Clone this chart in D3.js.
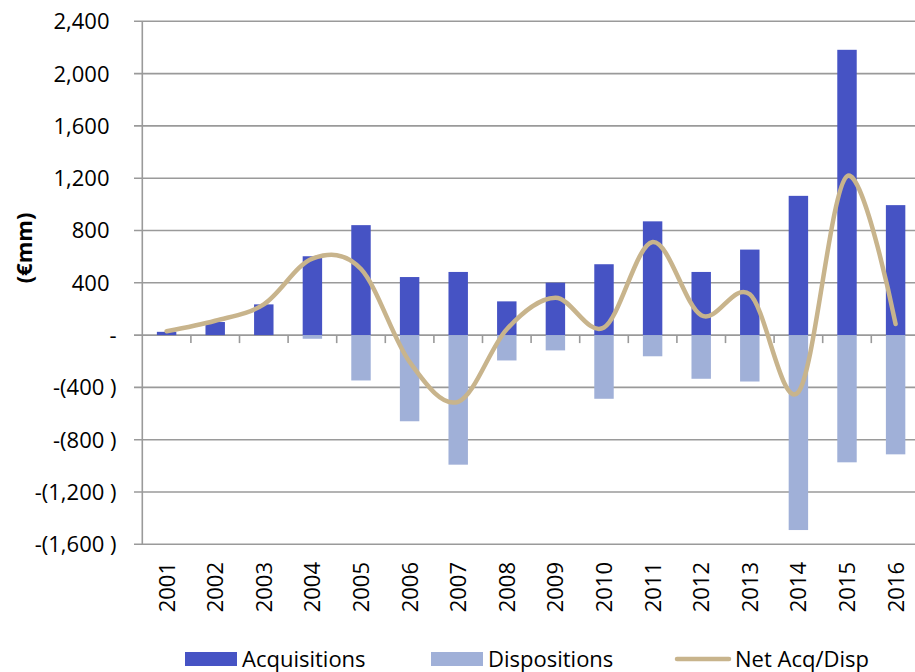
<!DOCTYPE html>
<html>
<head>
<meta charset="utf-8">
<script src="https://cdn.jsdelivr.net/npm/d3@7"></script>
<style>
  body { margin: 0; background: #fff; }
  svg text { font-family: "Open Sans", "Noto Sans", sans-serif; fill: #000; }
</style>
</head>
<body>
<svg id="chart" width="915" height="672"></svg>
<script>
// data
let years = ['2001','2002','2003','2004','2005','2006','2007','2008',
             '2009','2010','2011','2012','2013','2014','2015','2016'];
let acquisitions = [25, 100, 235, 603, 841, 444, 483, 258, 401, 542, 870, 483, 654, 1065, 2182, 994];
let dispositions = [0, 0, 0, -28, -347, -659, -991, -194, -117, -487, -162, -334, -355, -1491, -973, -912];
let netAcqDisp = [30, 110, 235, 585, 505, -205, -510, 45, 285, 58, 712, 152, 312, -435, 1215, 85];
let yTicks = [2400, 2000, 1600, 1200, 800, 400, 0, -400, -800, -1200, -1600];
let legendNames = ['Acquisitions', 'Dispositions', 'Net Acq/Disp'];

let acqColor = '#4653c4';
let dispColor = '#a0b0d8';
let netColor = '#c8b48c';
let gridColor = '#9a9a9a';

let svg = d3.select('#chart');

let xScale = d3.scaleBand()
  .domain(years)
  .range([142.3, 919.9])
  .paddingInner(0)
  .paddingOuter(0);
let yScale = d3.scaleLinear()
  .domain([-1600, 2400])
  .range([544.3, 21.3]);

function fmt(v) {
  if (v == 0) return '-';
  let s = d3.format(',')(Math.abs(v));
  return v < 0 ? '-(' + s + ' )' : s;
}

// horizontal gridlines + y labels
let yAxis = svg.append('g');
yAxis.selectAll('line')
  .data(yTicks)
  .join('line')
  .attr('x1', 134)
  .attr('x2', 915)
  .attr('y1', function(d){return yScale(d)})
  .attr('y2', function(d){return yScale(d)})
  .attr('stroke', gridColor)
  .attr('stroke-width', 1.6);
yAxis.selectAll('text')
  .data(yTicks)
  .join('text')
  .attr('x', function(d){return d > 0 ? 109.5 : 116.5})
  .attr('y', function(d){return yScale(d)})
  .attr('dy', '0.36em')
  .attr('text-anchor', 'end')
  .attr('font-size', 22)
  .text(fmt);

// y axis title
svg.append('text')
  .attr('transform', 'translate(32,248) rotate(-90)')
  .attr('text-anchor', 'middle')
  .attr('font-size', 22)
  .attr('font-weight', 'bold')
  .text('(€mm)');

// bars
let bw = xScale.bandwidth() * 0.4;
svg.append('g')
  .selectAll('rect')
  .data(acquisitions)
  .join('rect')
  .attr('x', function(d,i){return xScale(years[i]) + (xScale.bandwidth() - bw) / 2})
  .attr('width', bw)
  .attr('y', function(d){return yScale(Math.max(d, 0))})
  .attr('height', function(d){return Math.abs(yScale(d) - yScale(0))})
  .attr('fill', acqColor);
svg.append('g')
  .selectAll('rect')
  .data(dispositions)
  .join('rect')
  .attr('x', function(d,i){return xScale(years[i]) + (xScale.bandwidth() - bw) / 2})
  .attr('width', bw)
  .attr('y', function(d){return yScale(Math.max(d, 0))})
  .attr('height', function(d){return Math.abs(yScale(d) - yScale(0))})
  .attr('fill', dispColor);

// left axis line
svg.append('line')
  .attr('x1', 142.3).attr('x2', 142.3)
  .attr('y1', yScale(2400)).attr('y2', yScale(-1600))
  .attr('stroke', gridColor)
  .attr('stroke-width', 1.6);

// category ticks on the zero line
svg.append('g')
  .selectAll('line')
  .data(years.slice(1))
  .join('line')
  .attr('x1', function(d){return xScale(d)})
  .attr('x2', function(d){return xScale(d)})
  .attr('y1', yScale(0))
  .attr('y2', yScale(0) + 8)
  .attr('stroke', gridColor)
  .attr('stroke-width', 1.6);

// net line
let line = d3.line()
  .x(function(d,i){return xScale(years[i]) + xScale.bandwidth() / 2})
  .y(function(d){return yScale(d)})
  .curve(d3.curveCardinal.tension(0));
svg.append('path')
  .datum(netAcqDisp)
  .attr('d', line)
  .attr('fill', 'none')
  .attr('stroke', netColor)
  .attr('stroke-width', 4.5)
  .attr('stroke-linecap', 'round');

// year labels
svg.append('g')
  .selectAll('text')
  .data(years)
  .join('text')
  .attr('transform', function(d){
    return 'translate(' + (xScale(d) + xScale.bandwidth() / 2) + ',562) rotate(-90)';
  })
  .attr('dy', '0.36em')
  .attr('text-anchor', 'end')
  .attr('font-size', 22)
  .text(function(d){return d});

// legend
let legend = svg.append('g');
legend.append('rect').attr('x', 185).attr('y', 652).attr('width', 52).attr('height', 14).attr('fill', acqColor);
legend.append('text').attr('x', 242).attr('y', 659).attr('dy', '0.36em').attr('font-size', 22).text(legendNames[0]);
legend.append('rect').attr('x', 431).attr('y', 652).attr('width', 52).attr('height', 14).attr('fill', dispColor);
legend.append('text').attr('x', 488).attr('y', 659).attr('dy', '0.36em').attr('font-size', 22).text(legendNames[1]);
legend.append('line').attr('x1', 677).attr('x2', 729).attr('y1', 659).attr('y2', 659)
  .attr('stroke', netColor).attr('stroke-width', 4.5).attr('stroke-linecap', 'round');
legend.append('text').attr('x', 735).attr('y', 659).attr('dy', '0.36em').attr('font-size', 22).text(legendNames[2]);
</script>
</body>
</html>
